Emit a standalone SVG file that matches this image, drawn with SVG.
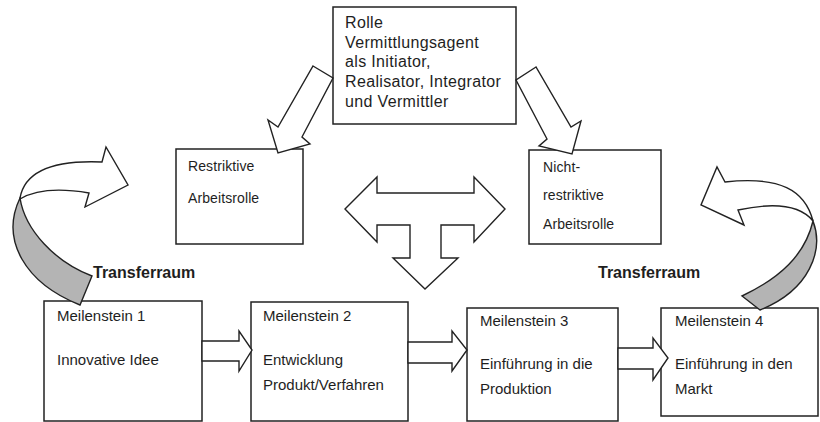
<svg xmlns="http://www.w3.org/2000/svg" width="820" height="422" viewBox="0 0 820 422">
<style>
.box{fill:#fff;stroke:#222;stroke-width:1.5}
.arr{fill:#fff;stroke:#222;stroke-width:1.4;stroke-linejoin:miter}
.band{fill:#b4b4b4;stroke:#222;stroke-width:1.4}
text{font-family:"Liberation Sans",Arial,sans-serif;fill:#1e1e1e}
.t16{font-size:16px;letter-spacing:0.35px}
.t13{font-size:14px;letter-spacing:0.1px}
.t15{font-size:15px}
.bold{font-size:16px;font-weight:bold}
</style>
<rect width="820" height="422" fill="#fff"/>
<g id="rolle">
<rect class="box" x="333" y="7" width="183" height="117"/>
<text class="t16" x="345" y="28">Rolle</text>
<text class="t16" x="345" y="48">Vermittlungsagent</text>
<text class="t16" x="345" y="67">als Initiator,</text>
<text class="t16" x="345" y="87">Realisator, Integrator</text>
<text class="t16" x="345" y="107">und Vermittler</text>
</g>
<g id="restriktiv">
<rect class="box" x="176" y="149" width="127" height="95"/>
<text class="t13" x="188" y="171">Restriktive</text>
<text class="t13" x="188" y="203">Arbeitsrolle</text>
</g>
<g id="nichtrestriktiv">
<rect class="box" x="529" y="150" width="132" height="94"/>
<text class="t13" x="543" y="172">Nicht-</text>
<text class="t13" x="543" y="200">restriktive</text>
<text class="t13" x="543" y="229">Arbeitsrolle</text>
</g>
<g id="m1">
<rect class="box" x="44" y="301" width="158" height="120"/>
<text class="t15" x="57" y="321">Meilenstein 1</text>
<text class="t15" x="57" y="365">Innovative Idee</text>
</g>
<g id="m2">
<rect class="box" x="251" y="302" width="157" height="119"/>
<text class="t15" x="263" y="321">Meilenstein 2</text>
<text class="t15" x="263" y="365">Entwicklung</text>
<text class="t15" x="263" y="390">Produkt/Verfahren</text>
</g>
<g id="m3">
<rect class="box" x="467" y="308" width="151" height="113"/>
<text class="t15" x="480" y="326">Meilenstein 3</text>
<text class="t15" x="480" y="369">Einführung in die</text>
<text class="t15" x="480" y="394">Produktion</text>
</g>
<g id="m4">
<rect class="box" x="661" y="308" width="157" height="108"/>
<text class="t15" x="675" y="326">Meilenstein 4</text>
<text class="t15" x="675" y="369">Einführung in den</text>
<text class="t15" x="675" y="394">Markt</text>
</g>
<g id="labels">
<text class="bold" x="93" y="278">Transferraum</text>
<text class="bold" x="598" y="278">Transferraum</text>
</g>
<g id="connectors">
<polygon class="arr" points="313,66 333,78 302,137 310,144 278,153 268,120 278,127"/>
<polygon class="arr" points="536,67 516,80 547,139 539,146 572,154 581,121 571,127"/>
<polygon class="arr" points="345,209 377,177 377,193 474,193 474,177 505,209 474,242 474,225 441,225 441,258 458,258 425,289 393,258 410,258 410,225 377,225 377,242"/>
<polygon class="arr" points="202,341 239,341 239,331 252,350 239,371 239,361 202,361"/>
<polygon class="arr" points="408,342 452,342 452,331 467,350 452,371 452,363 408,363"/>
<polygon class="arr" points="618,348 653,348 653,338 668,358 653,380 653,369 618,369"/>
<path class="arr" d="M20,198 C25,170 55,160 102,162 L106,147 L128,185 L85,207 L89,193 C60,188 35,190 20,199 Z"/>
<path class="band" d="M20,198 C0,240 25,283 80,305 L92,276 C55,262 25,230 20,198 Z"/>
<path class="arr" d="M813,221 C805,190 780,176 725,182 L717,167 L701,205 L744,225 L738,210 C775,202 800,205 813,221 Z"/>
<path class="band" d="M813,221 C824,250 810,290 760,310 L742,296 C780,278 805,255 813,221 Z"/>
</g>
</svg>
